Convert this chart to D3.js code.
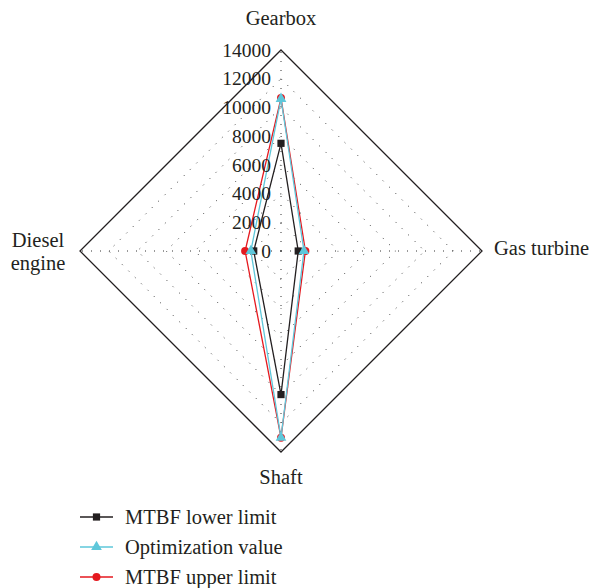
<!DOCTYPE html>
<html lang="en">
<head>
    <meta charset="UTF-8">
    <title>MTBF radar</title>
    <script type="text/javascript" src="https://cdn.jsdelivr.net/npm/d3@7/dist/d3.min.js"></script>
    <style>
        body { margin: 0; background: #fff; }
    </style>
</head>
<body>
<script type="text/javascript">
    // categories clockwise from the top
    let categories = ['Gearbox', 'Gas turbine', 'Shaft', 'Diesel engine'];
    let lowerLimit = [7500, 1200, 10000, 1900];
    let optimization = [10600, 1600, 13000, 2100];
    let upperLimit = [10650, 1700, 13000, 2500];
    let tickValues = [0, 2000, 4000, 6000, 8000, 10000, 12000, 14000];
    let seriesNames = ['MTBF lower limit', 'Optimization value', 'MTBF upper limit'];

    let width = 594, height = 588;
    let cx = 281, cy = 251, R = 201;
    let serif = '"Liberation Serif", "Times New Roman", serif';
    let labelSize = 20.5;

    let svg = d3.select('body').append('svg')
        .attr('width', width)
        .attr('height', height)
        .attr('font-family', serif);

    let r = d3.scaleLinear().domain([0, 14000]).range([0, R]);
    let angle = d3.scalePoint().domain(categories).range([0, 2 * Math.PI * 3 / 4]);

    let g = svg.append('g').attr('transform', 'translate(' + cx + ',' + cy + ')');

    function pt(cat, v) {
        let a = angle(cat) - Math.PI / 2;
        return [r(v) * Math.cos(a), r(v) * Math.sin(a)];
    }

    // dotted grid rings
    let ring = d3.lineRadial()
        .angle(function (d) { return angle(d.cat); })
        .radius(function (d) { return r(d.v); })
        .curve(d3.curveLinearClosed);

    g.selectAll('.grid')
        .data(tickValues.slice(1, -1))
        .enter().append('path')
        .attr('d', function (t) { return ring(categories.map(function (c) { return {cat: c, v: t}; })); })
        .attr('fill', 'none')
        .attr('stroke', '#333')
        .attr('stroke-width', 1)
        .attr('stroke-dasharray', '1,8');

    // dotted spokes
    g.selectAll('.spoke')
        .data(categories)
        .enter().append('line')
        .attr('x1', 0).attr('y1', 0)
        .attr('x2', function (c) { return pt(c, 14000)[0]; })
        .attr('y2', function (c) { return pt(c, 14000)[1]; })
        .attr('stroke', '#333')
        .attr('stroke-width', 1)
        .attr('stroke-dasharray', '1,8');

    // outer frame
    g.append('path')
        .attr('d', ring(categories.map(function (c) { return {cat: c, v: 14000}; })))
        .attr('fill', 'none')
        .attr('stroke', '#231f20')
        .attr('stroke-width', 1.3);

    // tick labels along the gearbox axis
    let y = d3.scaleLinear().domain([0, 14000]).range([cy, cy - R]);
    svg.append('g')
        .attr('transform', 'translate(' + cx + ',0)')
        .call(d3.axisLeft(y).tickValues(tickValues).tickFormat(d3.format('d')).tickSize(0).tickPadding(10))
        .attr('font-family', serif)
        .call(function (a) { a.select('.domain').remove(); })
        .selectAll('text')
        .attr('font-size', 19.5)
        .attr('fill', '#231f20');

    // series
    let series = [
        {name: seriesNames[0], values: lowerLimit, color: '#231f20', symbol: d3.symbolSquare, size: 52},
        {name: seriesNames[2], values: upperLimit, color: '#e5191f', symbol: d3.symbolCircle, size: 50},
        {name: seriesNames[1], values: optimization, color: '#5ec7da', symbol: d3.symbolTriangle, size: 50}
    ];

    series.forEach(function (s) {
        let data = categories.map(function (c, i) { return {cat: c, v: s.values[i]}; });
        g.append('path')
            .attr('d', ring(data))
            .attr('fill', 'none')
            .attr('stroke', s.color)
            .attr('stroke-width', 1.3);
        g.selectAll(null)
            .data(data)
            .enter().append('path')
            .attr('d', d3.symbol().type(s.symbol).size(s.size))
            .attr('transform', function (d) { return 'translate(' + pt(d.cat, d.v) + ')'; })
            .attr('fill', s.color);
    });

    // category labels
    let labelPos = {
        'Gearbox': {x: 281, y: 25, anchor: 'middle'},
        'Gas turbine': {x: 494, y: 255, anchor: 'start'},
        'Shaft': {x: 281, y: 484, anchor: 'middle'},
        'Diesel engine': {x: 38, y: 247, anchor: 'middle'}
    };
    categories.forEach(function (c) {
        let p = labelPos[c];
        let t = svg.append('text')
            .attr('x', p.x).attr('y', p.y)
            .attr('text-anchor', p.anchor)
            .attr('font-family', serif)
            .attr('font-size', labelSize)
            .attr('fill', '#231f20');
        if (c === 'Diesel engine') {
            t.append('tspan').attr('x', p.x).text('Diesel');
            t.append('tspan').attr('x', p.x).attr('dy', 23).text('engine');
        } else {
            t.text(c);
        }
    });

    // legend
    let legendOrder = [series[0], series[2], series[1]];
    let legend = svg.selectAll('.legend')
        .data(legendOrder)
        .enter().append('g')
        .attr('transform', function (d, i) { return 'translate(80,' + (517 + i * 30) + ')'; });
    legend.append('line')
        .attr('x1', 0).attr('x2', 33)
        .attr('stroke', function (d) { return d.color; })
        .attr('stroke-width', 1.3);
    legend.append('path')
        .attr('d', function (d) { return d3.symbol().type(d.symbol).size(d.size)(); })
        .attr('transform', 'translate(16.5,0)')
        .attr('fill', function (d) { return d.color; });
    legend.append('text')
        .attr('x', 45).attr('y', 6.5)
        .attr('font-family', serif)
        .attr('font-size', labelSize)
        .attr('fill', '#231f20')
        .text(function (d) { return d.name; });
</script>
</body>
</html>
